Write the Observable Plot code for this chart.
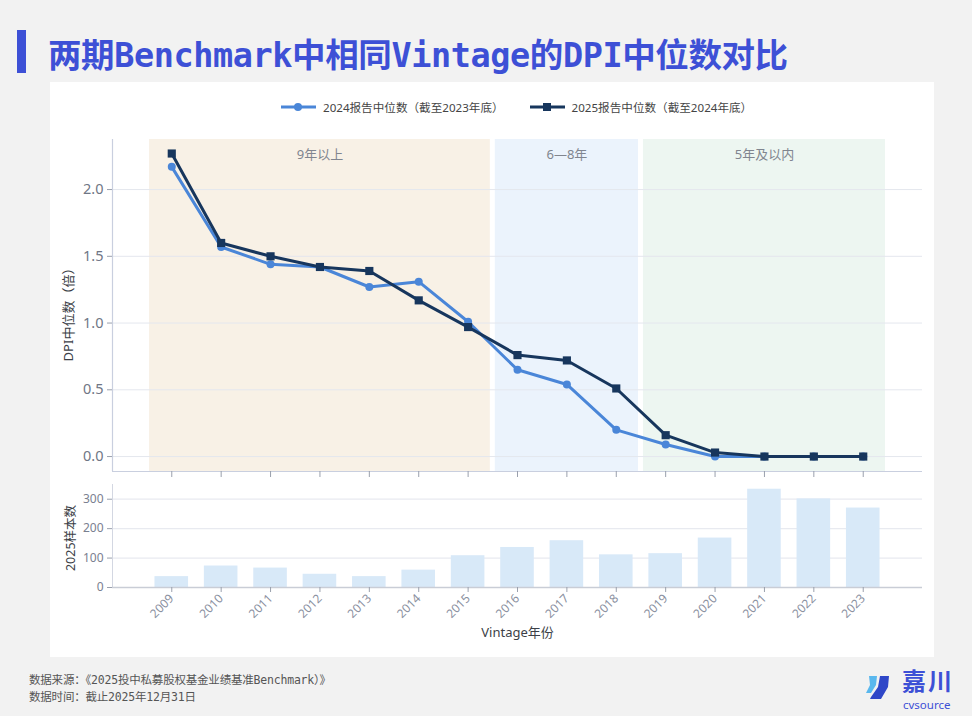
<!DOCTYPE html>
<html><head><meta charset="utf-8">
<script src="https://cdn.jsdelivr.net/npm/d3@7"></script>
<script src="https://cdn.jsdelivr.net/npm/@observablehq/plot@0.6"></script>
<style>
body{margin:0;width:972px;height:716px;background:#f2f2f2;position:relative;overflow:hidden;font-family:"Noto Sans","Noto Sans CJK SC",sans-serif;}
#bar{position:absolute;left:17px;top:30px;width:9px;height:43px;background:#3d50d6;}
#title{position:absolute;left:48px;top:39px;font-size:33.5px;line-height:33px;font-weight:bold;color:#3d50d6;font-family:"DejaVu Sans Mono","Noto Sans CJK SC",monospace;white-space:nowrap;letter-spacing:-0.4px;}
#panel{position:absolute;left:50px;top:82px;width:884px;height:575px;background:#fff;}
#top{position:absolute;left:50px;top:130px;}
#bottom{position:absolute;left:50px;top:480px;}
#legend{position:absolute;left:281px;top:97px;height:20px;display:flex;align-items:center;font-size:11.6px;color:#444;white-space:nowrap;}
#legend .item{display:flex;align-items:center;margin-right:26px;}
#legend svg{margin-right:7px;}
#footer{position:absolute;left:29px;top:672px;font-size:11.5px;line-height:16.5px;color:#555;font-family:"DejaVu Sans Mono","Noto Sans CJK SC",monospace;white-space:nowrap;letter-spacing:-0.2px;}
#logo{position:absolute;left:866px;top:668px;width:100px;height:48px;}
#logo .cn{position:absolute;left:36px;top:-6px;font-size:24px;font-weight:bold;color:#3d50d6;font-family:"Noto Sans CJK SC";letter-spacing:2px;line-height:35px;}
#logo .en{position:absolute;left:37px;top:29px;font-size:11.5px;color:#3d50d6;font-family:"Noto Sans";line-height:16px;}
</style></head>
<body>
<div id="bar"></div>
<div id="title">两期Benchmark中相同Vintage的DPI中位数对比</div>
<div id="panel"></div>
<div id="legend"></div>
<div id="top"></div>
<div id="bottom"></div>
<div id="footer">数据来源：《2025投中私募股权基金业绩基准Benchmark）》<br>数据时间：截止2025年12月31日</div>
<div id="logo">
<svg width="34" height="32" style="position:absolute;left:0;top:3px">
<polygon points="3,5 11,5 10,14 5,22 0,22 4,14" fill="#5ab8ee"/>
<polygon points="14,5 23,5 22,16 15,28 4,28 5,26 12,16" fill="#2f47c8"/>
</svg>
<div class="cn">嘉川</div>
<div class="en">cvsource</div>
</div>
<script>
const years = [2009,2010,2011,2012,2013,2014,2015,2016,2017,2018,2019,2020,2021,2022,2023];
const dpi2024 = [2.17,1.57,1.44,1.42,1.27,1.31,1.01,0.65,0.54,0.20,0.09,0.00,0.00,0.00,0.00];
const dpi2025 = [2.27,1.60,1.50,1.42,1.39,1.17,0.97,0.76,0.72,0.51,0.16,0.03,0.00,0.00,0.00];
const samples2025 = [37,73,66,45,37,59,108,136,159,111,115,168,334,301,270];
const seriesNames = ["2024报告中位数（截至2023年底）","2025报告中位数（截至2024年底）"];
const seriesColors = ["#4a86d8","#17365d"];
const bandNames = ["9年以上","6—8年","5年及以内"];
const bandStart = [2009,2016,2019];
const bandEnd = [2015,2018,2023];
const bandColors = ["#f8f1e6","#ebf3fc","#edf6f1"];
const dpiTicks = [0,0.5,1.0,1.5,2.0];
const countTicks = [0,100,200,300];

const font = '"Noto Sans","Noto Sans CJK SC",sans-serif';
const xDom = [2007.8, 2024.2];
const yDom = [-0.112, 2.375];

// legend
const leg = document.getElementById("legend");
seriesNames.forEach((n,i)=>{
  const it = document.createElement("div"); it.className="item";
  const marker = i===0 ? `<circle cx="17" cy="6" r="4" fill="${seriesColors[i]}"/>` : `<rect x="13" y="2" width="8" height="8" fill="${seriesColors[i]}"/>`;
  it.innerHTML = `<svg width="35" height="12"><line x1="0" x2="35" y1="6" y2="6" stroke="${seriesColors[i]}" stroke-width="3"/>${marker}</svg><span>${n}</span>`;
  leg.appendChild(it);
});

const lineData = years.map((y,i)=>({year:y, a:dpi2024[i], b:dpi2025[i]}));
const bands = bandNames.map((n,i)=>({name:n, x1:bandStart[i]-0.45, x2:bandEnd[i]+0.45, y1:yDom[0], y2:yDom[1], mid:(bandStart[i]+bandEnd[i])/2, c:bandColors[i]}));

const topPlot = Plot.plot({
  width:884, height:350, marginLeft:62, marginRight:12, marginTop:9, marginBottom:9,
  x:{type:"linear", domain:xDom},
  y:{domain:yDom},
  style:{fontFamily:font, background:"transparent", overflow:"visible"},
  marks:[
    ...bands.map(b=>Plot.rect([b],{x1:"x1",x2:"x2",y1:"y1",y2:"y2",fill:b.c})),
    Plot.ruleY(dpiTicks,{stroke:"#e4e7ee", strokeWidth:1}),
    Plot.ruleX([xDom[0]],{stroke:"#c9cfdf", strokeWidth:1.2}),
    Plot.ruleY([yDom[0]],{stroke:"#c9cfdf", strokeWidth:1.2}),
    Plot.axisY({ticks:dpiTicks, tickFormat:d=>d.toFixed(1), tickSize:5, tickPadding:4, label:null, fontSize:14.5, color:"#6f7685", stroke:"#9aa0ad"}),
    Plot.axisX({ticks:years, tickFormat:()=> "", tickSize:6, label:null, stroke:"#9aa0ad"}),
    Plot.text(["DPI中位数（倍）"],{frameAnchor:"left", textAnchor:"middle", rotate:-90, dx:-44, dy:6, fontSize:13, fill:"#3c3f47"}),
    Plot.text(bands,{x:"mid", y:"y2", text:"name", dy:15, fill:"#80858f", fontSize:13}),
    Plot.line(lineData,{x:"year", y:"a", stroke:seriesColors[0], strokeWidth:3}),
    Plot.dot(lineData,{x:"year", y:"a", r:4, fill:seriesColors[0], symbol:"circle"}),
    Plot.line(lineData,{x:"year", y:"b", stroke:seriesColors[1], strokeWidth:3}),
    Plot.dot(lineData,{x:"year", y:"b", r:4.6, fill:seriesColors[1], symbol:"square"})
  ]
});
document.getElementById("top").appendChild(topPlot);

const barData = years.map((y,i)=>({year:y, n:samples2025[i]}));
const bottomPlot = Plot.plot({
  width:884, height:177, marginLeft:62, marginRight:12, marginTop:4, marginBottom:70,
  x:{type:"linear", domain:xDom},
  y:{domain:[0,350]},
  style:{fontFamily:font, background:"transparent", overflow:"visible"},
  marks:[
    Plot.ruleY(countTicks.slice(1),{stroke:"#e8eaf0", strokeWidth:1.2}),
    Plot.rect(barData,{x1:d=>d.year-0.34, x2:d=>d.year+0.34, y1:d=>0, y2:"n", fill:"#d8e9f8"}),
    Plot.ruleX([xDom[0]],{stroke:"#d3d7e2", strokeWidth:1}),
    Plot.ruleY([0],{stroke:"#c9cdd6", strokeWidth:1.5}),
    Plot.axisY({ticks:countTicks, tickSize:5, tickPadding:4, label:null, fontSize:12, color:"#7a8090", stroke:"#9aa0ad"}),
    Plot.axisX({ticks:years, tickFormat:d=>String(d), tickRotate:-45, tickSize:5, tickPadding:4, label:null, fontSize:12, color:"#8a90a0", stroke:"#9aa0ad"}),
    Plot.text(["2025样本数"],{frameAnchor:"left", textAnchor:"middle", rotate:-90, dx:-42, dy:2, fontSize:12.5, fill:"#3c3f47"}),
    Plot.text(["Vintage年份"],{frameAnchor:"bottom", dy:49, fontSize:13, fill:"#3c3f47"})
  ]
});
document.getElementById("bottom").appendChild(bottomPlot);
</script>
</body></html>
